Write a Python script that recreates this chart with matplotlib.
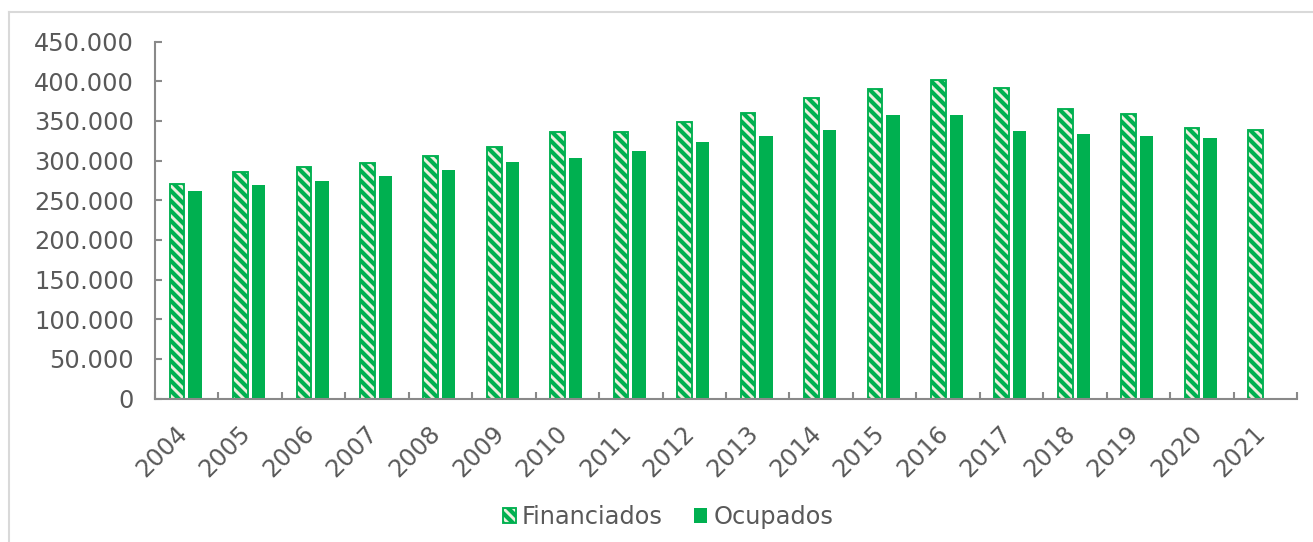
import numpy as np
import matplotlib
matplotlib.use("Agg")
import matplotlib.pyplot as plt
import matplotlib.transforms as mtransforms
from matplotlib.ticker import FuncFormatter, FixedLocator
from matplotlib.lines import Line2D

years = ['2004', '2005', '2006', '2007', '2008', '2009', '2010', '2011', '2012',
         '2013', '2014', '2015', '2016', '2017', '2018', '2019', '2020', '2021']
financiados = [270700, 285800, 291600, 296600, 305400, 317200, 336100, 336100, 348700,
               360400, 378400, 390600, 402300, 391800, 364500, 358300, 341100, 339000]
ocupados = [261400, 269800, 274000, 281000, 288400, 298700, 302900, 312600, 323000,
            331000, 339000, 357900, 357500, 337700, 333500, 330600, 328500, np.nan]

green = '#00B050'
light = '#EBF1DE'
grey = '#595959'
axgrey = '#898989'

plt.rcParams['hatch.linewidth'] = 2.0
plt.rcParams['font.family'] = 'DejaVu Sans'

fig = plt.figure(figsize=(1313/150., 542/150.), dpi=150)
ax = fig.add_axes([155/1313., 1-398.5/542., (1297-155)/1313., (398.5-41.7)/542.])

x = np.arange(len(years))
ax.bar(x-0.153, financiados, width=0.23, color=light, edgecolor=green, hatch='\\'*5,
       linewidth=0.9, label='Financiados')
ax.bar(x+0.131, ocupados, width=0.21, color=green, linewidth=0, label='Ocupados')

ax.set_xlim(-0.5, len(years)-0.5)
ax.set_ylim(0, 450000)
ax.set_yticks(np.arange(0, 450001, 50000))
ax.yaxis.set_major_formatter(FuncFormatter(lambda v, p: '{:,}'.format(int(v)).replace(',', '.')))

ax.set_xticks(x)
ax.set_xticklabels(years, rotation=45, ha='right')
ax.xaxis.set_minor_locator(FixedLocator(np.arange(-0.5, len(years), 1)))
ax.tick_params(axis='x', which='major', length=0, pad=11, labelsize=11.5, labelcolor=grey)
ax.tick_params(axis='x', which='minor', direction='in', length=3.4, width=1, color=axgrey)
ax.tick_params(axis='y', direction='in', length=3.4, width=1, color=axgrey,
               labelsize=11.5, labelcolor=grey, pad=10)

# nudge the slanted year labels a little to the right
shift = mtransforms.ScaledTranslation(5/150., 0, fig.dpi_scale_trans)
for lab in ax.get_xticklabels():
    lab.set_transform(lab.get_transform() + shift)

for s in ['top', 'right']:
    ax.spines[s].set_visible(False)
for s in ['left', 'bottom']:
    ax.spines[s].set_color(axgrey)
    ax.spines[s].set_linewidth(1)

# light frame round the chart (only top and left visible in the picture)
fig.add_artist(Line2D([8.5/1313., 8.5/1313.], [0, 1-12/542.], transform=fig.transFigure,
                      color='#D9D9D9', linewidth=1))
fig.add_artist(Line2D([8.5/1313., 1], [1-12/542., 1-12/542.], transform=fig.transFigure,
                      color='#D9D9D9', linewidth=1))

fig.legend(loc='center', bbox_to_anchor=(668/1313., 1-517/542.), ncol=2, frameon=False,
           fontsize=11.5, labelcolor=grey, handlelength=0.55, handleheight=0.55,
           handletextpad=0.25, columnspacing=1.3)

plt.savefig('out.png', dpi=150, facecolor='white')
